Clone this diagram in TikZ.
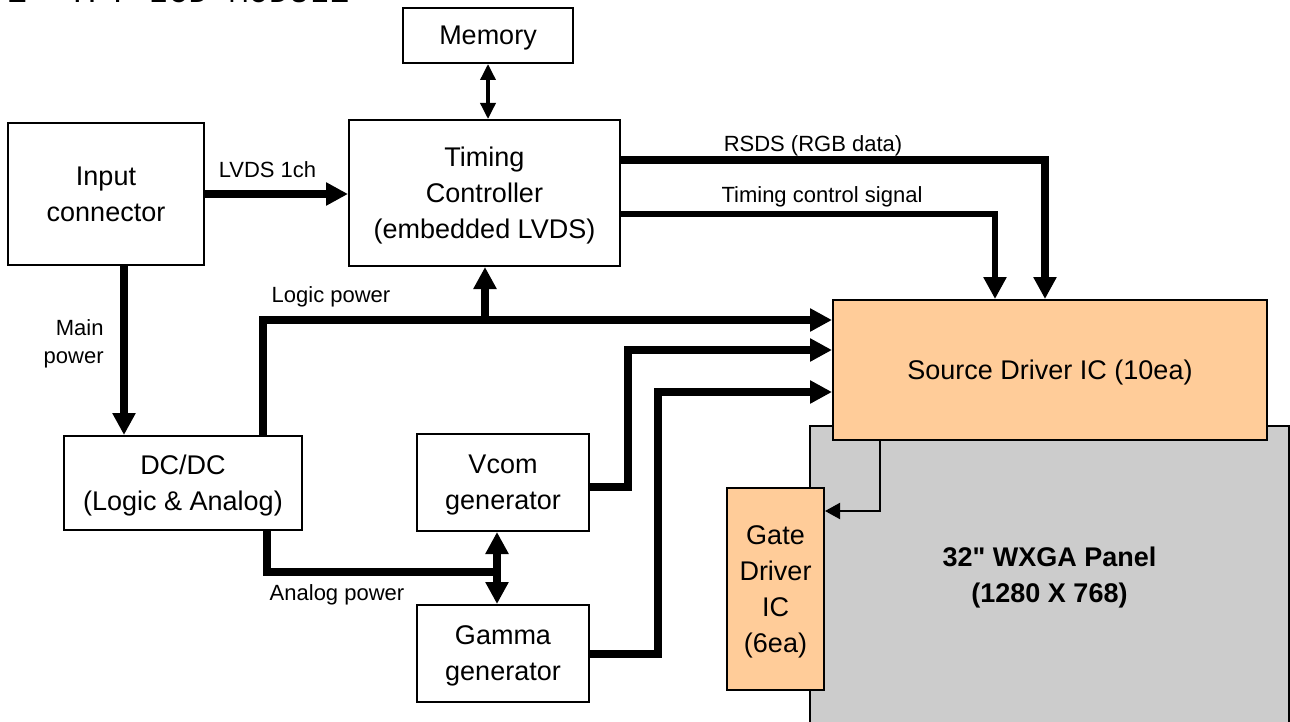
\documentclass[tikz,border=0pt]{standalone}
\usepackage{fontspec}
\setmainfont{Liberation Sans}[Ligatures=TeXOff]
\setmonofont{Liberation Mono}
\usetikzlibrary{arrows.meta}
\definecolor{peach}{HTML}{FFCC99}
\definecolor{panelgray}{HTML}{CCCCCC}
\newcommand{\boxfont}{\fontsize{13.5}{18}\selectfont}
\newcommand{\lblfont}{\fontsize{11}{14}\selectfont}

\begin{document}
\begin{tikzpicture}[
  x=0.5pt, y=-0.5pt,
  box/.style={rectangle, draw=black, line width=1pt, fill=white, align=center, inner sep=0pt, text depth=0pt, font=\boxfont},
  chip/.style={box, fill=peach},
  bus/.style={-{Triangle[length=11pt, width=11pt]}, line width=4pt},
  ctrl/.style={-{Triangle[length=11pt, width=11pt]}, line width=2.75pt},
  wire/.style={-{Triangle[length=7.5pt, width=8pt]}, line width=1pt},
  memlink/.style={{Triangle[length=8pt, width=7.5pt]}-{Triangle[length=8pt, width=7.5pt]}, line width=1.75pt},
  lbl/.style={font=\lblfont, inner sep=0pt}
]
\useasboundingbox (0,0) rectangle (1290,722);

\node[font=\ttfamily\fontsize{16.8}{20}\selectfont, anchor=base east, inner sep=0pt] (title) at (350,2.5) {4.1\ \ TFT LCD MODULE};

\node[box, fill=panelgray, minimum width=239.5pt, minimum height=149pt, font=\boxfont\bfseries] (panel) at (1049.5,575) {32" WXGA Panel\\(1280 X 768)};

\node[box, minimum width=85pt, minimum height=27.5pt] (mem) at (488,35.5) {Memory};
\node[box, minimum width=98pt, minimum height=71pt] (inp) at (106,194) {Input\\connector};
\node[box, minimum width=135.5pt, minimum height=73pt] (tcon) at (484.5,193) {Timing\\Controller\\(embedded LVDS)};
\node[box, minimum width=119pt, minimum height=47pt] (dcdc) at (183,483) {DC/DC\\(Logic \& Analog)};
\node[box, minimum width=86pt, minimum height=48.5pt] (vcom) at (503,482.5) {Vcom\\generator};
\node[box, minimum width=86pt, minimum height=48.5pt] (gamma) at (503,653.5) {Gamma\\generator};
\node[chip, minimum width=217pt, minimum height=70pt] (src) at (1050,370) {Source Driver IC (10ea)};
\node[chip, minimum width=48.5pt, minimum height=101pt] (gate) at (775.5,589) {Gate\\Driver\\IC\\(6ea)};

% Labels
\node[lbl] (lvdslbl) at (267.5,170) {LVDS 1ch};
\node[lbl] (rsdslbl) at (813,146) {RSDS (RGB data)};
\node[lbl] (tcslbl) at (822,197) {Timing control signal};
\node[lbl, align=right, anchor=east] (mainlbl) at (104,344) {Main\\power};
\node[lbl] (logiclbl) at (331,297) {Logic power};
\node[lbl] (analoglbl) at (337,595) {Analog power};

\coordinate (logicbus) at (485,320);
\coordinate (analogbus) at (497,572);

% Arrows
\draw[memlink] (mem.south) -- (mem.south |- tcon.north);
\draw[bus] (inp.east) -- (inp.east -| tcon.west);
\draw[bus] ([yshift=16.5pt]tcon.east) -| ([xshift=-2.5pt]src.north);
\draw[ctrl] ([yshift=-10.5pt]tcon.east) -| ([xshift=-27.5pt]src.north);
\draw[bus] ([xshift=9pt]inp.south) -- ([xshift=9pt]inp.south |- dcdc.north);
\draw[bus] ([xshift=40pt]dcdc.north) |- (logicbus -| src.west);
\draw[bus] (logicbus) -- (logicbus |- tcon.south);
\draw[bus] ([yshift=-2pt]vcom.east) -- ++(38,0) |- ([yshift=10pt]src.west);
\draw[bus] (gamma.east) -- ++(68,0) |- ([yshift=-11pt]src.west);
\draw[bus, -] ([xshift=42pt]dcdc.south) |- (analogbus);
\draw[bus, {Triangle[length=11pt, width=11pt]}-{Triangle[length=11pt, width=11pt]}] (analogbus |- vcom.south) -- (analogbus |- gamma.north);
\draw[wire] ([xshift=-85pt]src.south) |- ([yshift=39pt]gate.east);

\end{tikzpicture}
\end{document}
